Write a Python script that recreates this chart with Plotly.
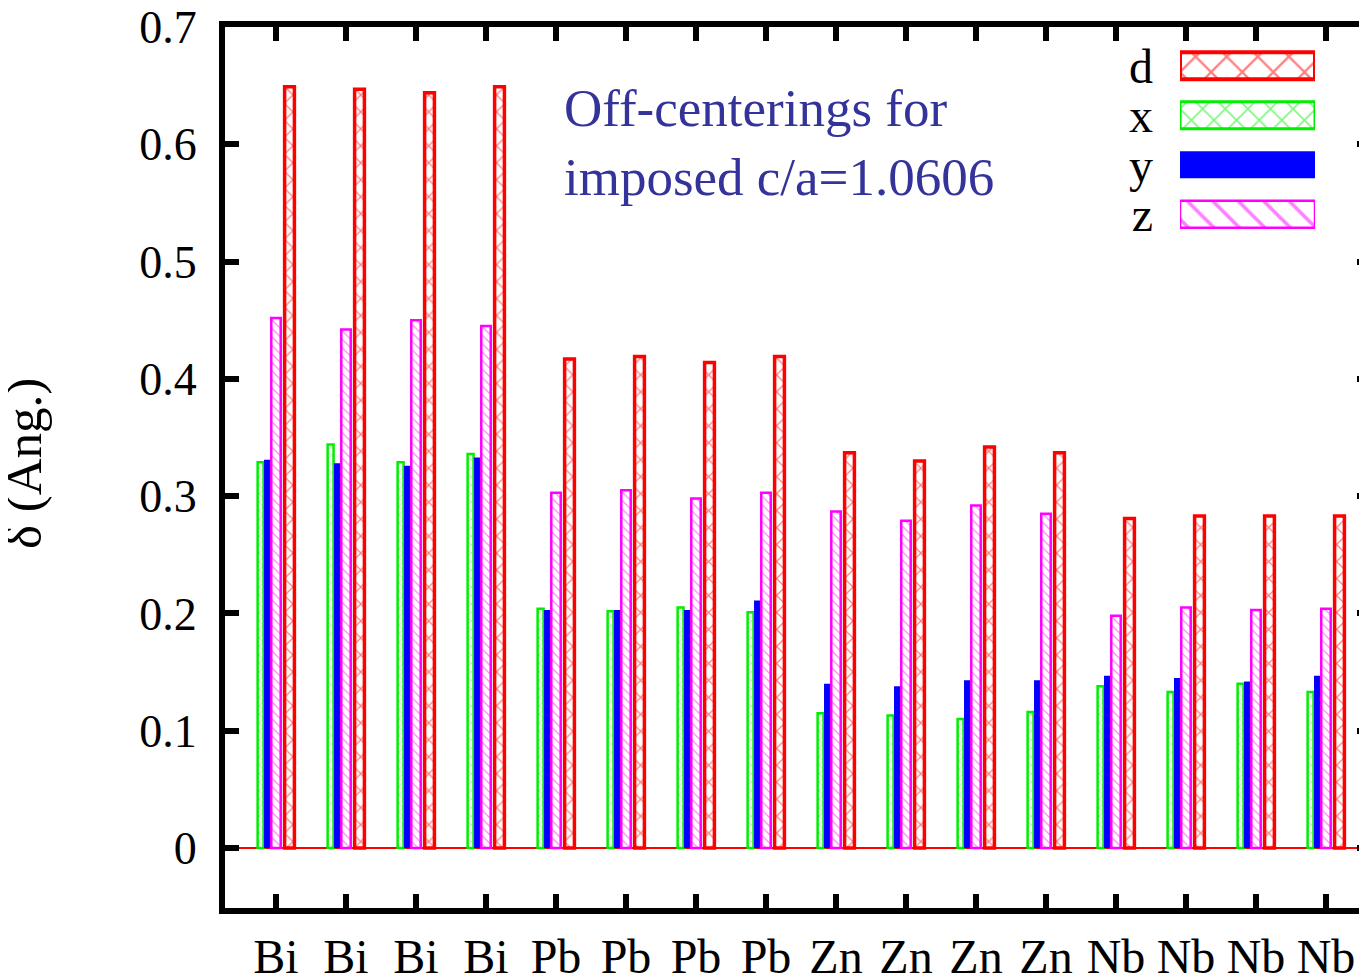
import plotly.graph_objects as go

# ---------------- data ----------------
categories = ["Bi", "Bi", "Bi", "Bi", "Pb", "Pb", "Pb", "Pb",
              "Zn", "Zn", "Zn", "Zn", "Nb", "Nb", "Nb", "Nb"]
d_vals = [0.649, 0.647, 0.644, 0.649, 0.417, 0.419, 0.414, 0.419,
          0.337, 0.330, 0.342, 0.337, 0.281, 0.283, 0.283, 0.283]
x_vals = [0.329, 0.344, 0.329, 0.336, 0.204, 0.202, 0.205, 0.201,
          0.115, 0.113, 0.110, 0.116, 0.138, 0.133, 0.140, 0.133]
y_vals = [0.331, 0.328, 0.326, 0.333, 0.203, 0.203, 0.203, 0.211,
          0.140, 0.138, 0.143, 0.143, 0.147, 0.145, 0.142, 0.147]
z_vals = [0.452, 0.442, 0.450, 0.445, 0.303, 0.305, 0.298, 0.303,
          0.287, 0.279, 0.292, 0.285, 0.198, 0.205, 0.203, 0.204]
y_ticks = [0, 0.1, 0.2, 0.3, 0.4, 0.5, 0.6, 0.7]
y_ticktext = ["0", "0.1", "0.2", "0.3", "0.4", "0.5", "0.6", "0.7"]
legend_names = ["d", "x", "y", "z"]

FONT = "Liberation Serif"
RED, GREEN, BLUE, MAGENTA = "#ff0000", "#00ee00", "#0000ff", "#ff00ff"

idx = list(range(len(categories)))

fig = go.Figure()

series = [
    # values, offset, width, color, pattern, line width, fill, pattern size
    (x_vals, -0.22, 0.085, GREEN, "x", 2.5, "white", 6),
    (y_vals, -0.114, 0.114, BLUE, "", 0, BLUE, 6),
    (z_vals, 0.0, 0.135, MAGENTA, "\\", 2.5, "white", 6),
    (d_vals, 0.193, 0.14, RED, "x", 3.5, "white", 12),
]
for vals, off, w, col, pat, lw, fill, sz in series:
    fig.add_trace(go.Bar(
        x=[i + off for i in idx], y=vals, width=w,
        marker=dict(color=fill,
                    line=dict(color=col, width=lw),
                    pattern=dict(shape=pat, fgcolor=col, bgcolor=fill,
                                 size=sz, solidity=0.2)),
        showlegend=False, hoverinfo="skip",
    ))

# invisible trace for the right-hand tick axis
fig.add_trace(go.Scatter(x=[0], y=[0], yaxis="y2", mode="markers",
                         marker=dict(opacity=0), showlegend=False,
                         hoverinfo="skip"))

# legend keys drawn as horizontal bars on a small dedicated axis
leg_styles = [
    (RED, "x", 4, "white", 22),
    (GREEN, "x", 3, "white", 16),
    (BLUE, "", 0, BLUE, 10),
    (MAGENTA, "\\", 2.5, "white", 18),
]
for name, (col, pat, lw, fill, sz) in zip(legend_names, leg_styles):
    fig.add_trace(go.Bar(
        y=[name], x=[1], orientation="h", width=0.55,
        xaxis="x3", yaxis="y3",
        marker=dict(color=fill, line=dict(color=col, width=lw),
                    pattern=dict(shape=pat, fgcolor=col, bgcolor=fill,
                                 size=sz, solidity=0.2)),
        showlegend=False, hoverinfo="skip",
    ))

# the page body has an 8px margin; compensate so page pixels line up
OFF = 8
W, H = 1367 - OFF, 977 - OFF
L, R, T, B = 225 - OFF, 0, 27 - OFF, 69
pw, ph = W - L - R, H - T - B


def px_x(p):
    return (p - OFF - L) / pw


def px_y(p):
    return (H - B - (p - OFF)) / ph


fig.update_layout(
    width=W, height=H,
    margin=dict(l=L, r=R, t=T, b=B, autoexpand=False),
    paper_bgcolor="white", plot_bgcolor="white",
    barmode="overlay",
    font=dict(family=FONT, color="black"),
    xaxis=dict(
        range=[-0.7286, 15.586], tickvals=idx, ticktext=categories,
        showline=True, linewidth=6, linecolor="black", mirror="ticks",
        ticks="inside", ticklen=14, tickwidth=6, tickcolor="black",
        tickfont=dict(family=FONT, size=48, color="black"),
        ticklabelstandoff=1, automargin=False, ticklabeloverflow="allow",
        showgrid=False, zeroline=False,
    ),
    yaxis=dict(
        range=[-0.0511, 0.7], tickvals=y_ticks, ticktext=y_ticktext,
        showline=True, linewidth=6, linecolor="black",
        ticks="inside", ticklen=14, tickwidth=6, tickcolor="black",
        tickfont=dict(family=FONT, size=46, color="black"),
        ticklabelstandoff=13, automargin=False, ticklabeloverflow="allow",
        showgrid=False, zeroline=True, zerolinecolor=RED, zerolinewidth=2,
    ),
    yaxis2=dict(
        range=[-0.0511, 0.7], tickvals=y_ticks, overlaying="y", side="right",
        showline=False, ticks="inside", ticklen=10, tickwidth=6,
        tickcolor="black", showticklabels=False, showgrid=False,
        zeroline=False, automargin=False,
    ),
    xaxis3=dict(
        domain=[px_x(1180), px_x(1315)], range=[0, 1], anchor="y3",
        visible=False, automargin=False,
    ),
    yaxis3=dict(
        domain=[px_y(239), px_y(41)], anchor="x3", autorange="reversed",
        tickmode="array", tickvals=legend_names, ticktext=legend_names,
        showline=False, ticks="", showgrid=False, zeroline=False,
        tickfont=dict(family=FONT, size=48, color="black"),
        ticklabelstandoff=26, automargin=False,
    ),
    annotations=[
        dict(text="Off-centerings for<br>imposed c/a=1.0606",
             xref="paper", yref="paper", x=px_x(562), y=px_y(77),
             xanchor="left", yanchor="top", align="left", showarrow=False,
             font=dict(family=FONT, size=53, color="rgb(51,51,153)")),
        dict(text="δ (Ang.)", textangle=-90,
             xref="paper", yref="paper", x=px_x(24), y=px_y(464),
             xanchor="center", yanchor="middle", showarrow=False,
             font=dict(family=FONT, size=51, color="black")),
    ],
)

fig.write_html("out.html")
